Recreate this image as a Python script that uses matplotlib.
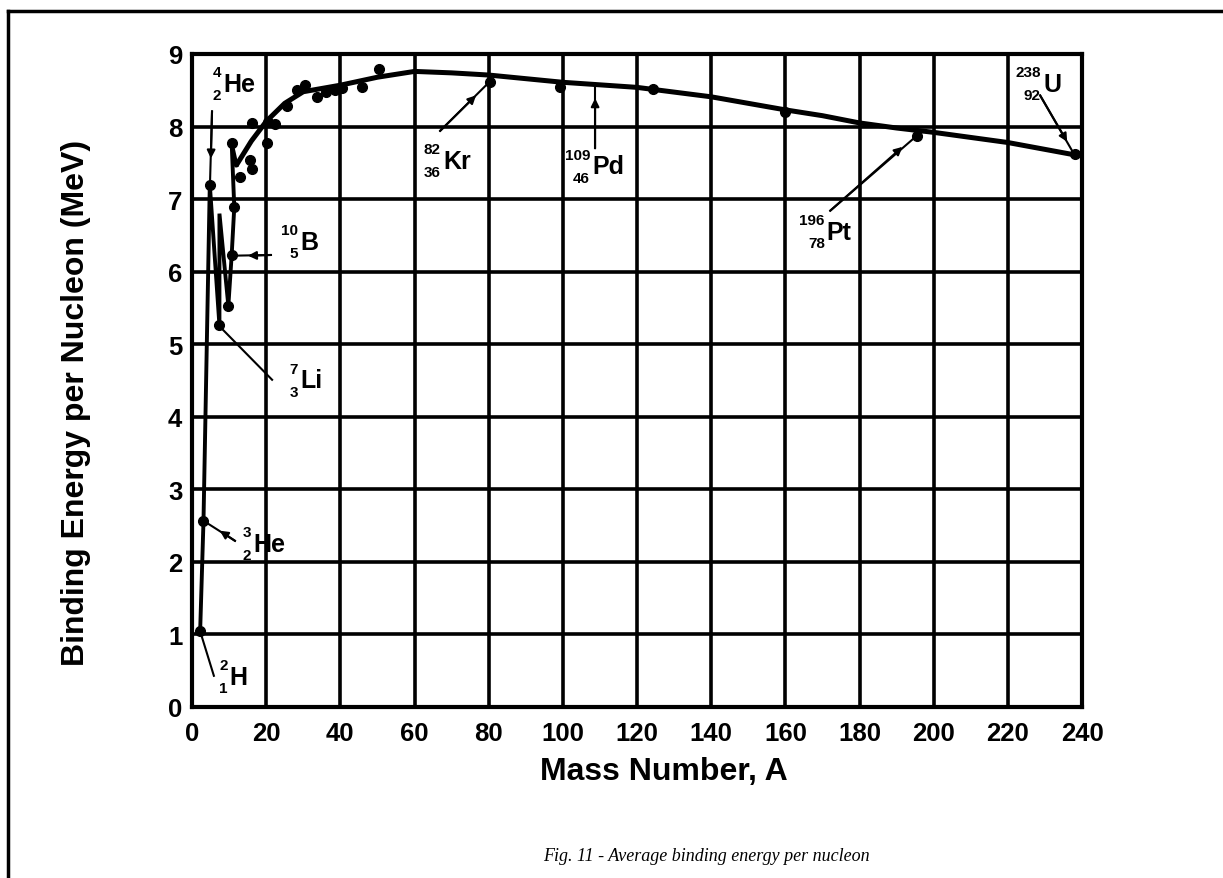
import matplotlib
matplotlib.use("Agg")
import matplotlib.pyplot as plt
from matplotlib.lines import Line2D

plt.rcParams['font.family'] = ['Liberation Sans', 'DejaVu Sans']
plt.rcParams['font.weight'] = 'bold'

# light-nuclide path (mass number, MeV per nucleon), drawn as a jagged line
low_a = [2.2, 3.1, 4.8, 7.4, 7.4, 9.8, 10.7, 11.4, 10.7, 12.0]
low_e = [1.05, 2.57, 7.2, 5.26, 6.8, 5.53, 6.23, 6.89, 7.77, 7.47]

# smooth trend curve
curve_a = [12, 16, 20, 25, 30, 40, 50, 60, 70, 80, 100, 120, 140,
           160, 170, 180, 190, 200, 220, 238]
curve_e = [7.47, 7.8, 8.07, 8.32, 8.48, 8.57, 8.68, 8.76, 8.74, 8.71, 8.61,
           8.54, 8.41, 8.23, 8.15, 8.05, 7.98, 7.92, 7.78, 7.61]

# measured points
dot_a = [2.2, 3.1, 4.8, 7.4, 9.8, 10.7, 11.4, 10.7, 12.9, 15.6, 16.1, 16.1,
         20.1, 20.6, 22.4, 25.5, 28.2, 30.5, 33.6, 36.0, 38.5, 40.5, 45.8,
         50.5, 80.3, 99.2, 124.4, 159.8, 195.5, 238.1]
dot_e = [1.05, 2.57, 7.2, 5.26, 5.53, 6.23, 6.89, 7.77, 7.31, 7.54, 7.42, 8.05,
         7.77, 8.06, 8.04, 8.29, 8.5, 8.57, 8.41, 8.47, 8.5, 8.53, 8.55,
         8.8, 8.62, 8.54, 8.52, 8.2, 7.87, 7.62]

# nuclide labels: symbol, mass number, atomic number
nuclides = [("He", "4", "2"), ("B", "10", "5"), ("Li", "7", "3"), ("He", "3", "2"),
            ("H", "2", "1"), ("Kr", "82", "36"), ("Pd", "109", "46"),
            ("Pt", "196", "78"), ("U", "238", "92")]
label_pos = [(8.4, 8.59), (29.1, 6.41), (29.1, 4.5), (16.5, 2.25), (10.2, 0.41),
             (67.7, 7.52), (107.9, 7.45), (171.2, 6.55), (229.5, 8.59)]
# pointer lines: start, arrow tip (None = plain line), end
pointers = [((5.4, 8.21), (5.1, 7.56), (4.85, 7.21)),
            ((21.3, 6.23), (15.1, 6.22), (10.8, 6.22)),
            ((21.6, 4.51), None, (7.55, 5.24)),
            ((11.6, 2.29), (7.5, 2.43), (3.0, 2.57)),
            ((5.9, 0.43), None, (2.16, 1.05)),
            ((66.9, 7.94), (76.6, 8.43), (80.1, 8.61)),
            ((108.7, 7.70), (108.7, 8.39), (108.7, 8.55)),
            ((172.1, 6.84), (191.6, 7.72), (195.6, 7.88)),
            ((228.7, 8.43), (236.0, 7.79), (238.2, 7.59))]

W, H = 1223, 879
fig = plt.figure(figsize=(W / 100, H / 100), dpi=100)
ax = fig.add_axes([192 / W, 1 - 708 / H, 890 / W, 653 / H])

ax.set_xlim(0, 240)
ax.set_ylim(0, 9)
ax.set_xticks(range(0, 241, 20))
ax.set_yticks(range(0, 10))
ax.grid(True, color='black', lw=2.6)
ax.set_axisbelow(True)
for s in ax.spines.values():
    s.set_linewidth(3)
ax.tick_params(length=0, labelsize=18.5)
ax.tick_params(axis='x', pad=10)
ax.tick_params(axis='y', pad=7)

ax.plot(low_a, low_e, color='black', lw=2.8, solid_joinstyle='miter')
ax.plot(curve_a, curve_e, color='black', lw=3.6, solid_capstyle='round')
ax.plot(dot_a, dot_e, 'o', color='black', ms=7)

for (st, tip, end) in pointers:
    ax.plot([st[0], end[0]], [st[1], end[1]], color='black', lw=1.5)
    if tip is not None:
        ax.annotate('', xy=tip, xytext=st,
                    arrowprops=dict(arrowstyle='-|>', color='black', lw=1.5,
                                    mutation_scale=12, shrinkA=0, shrinkB=0))

for (sym, mass, z), (x, y) in zip(nuclides, label_pos):
    ax.text(x, y, sym, fontsize=18, ha='left', va='center')
    ax.annotate(mass, (x, y), xytext=(-1.5, 8.6), textcoords='offset points',
                fontsize=11, ha='right', va='center')
    ax.annotate(z, (x, y), xytext=(-1.5, -8.0), textcoords='offset points',
                fontsize=11, ha='right', va='center')

fig.text(76 / W, 1 - 403 / H, "Binding Energy per Nucleon (MeV)", rotation=90,
         fontsize=23, ha='center', va='center')
fig.text(664 / W, 1 - 772 / H, "Mass Number, A", fontsize=23,
         ha='center', va='center')
fig.text(706 / W, 1 - 857 / H, "Fig. 11 - Average binding energy per nucleon",
         family='Liberation Serif', fontstyle='italic', fontweight='normal',
         fontsize=13, ha='center', va='center')

# page frame (top and left edges visible)
fig.add_artist(Line2D([8 / W, 1], [1 - 12 / H] * 2, transform=fig.transFigure,
                      color='black', lw=2.5))
fig.add_artist(Line2D([8 / W] * 2, [1 - 12 / H, 0], transform=fig.transFigure,
                      color='black', lw=2.5))

fig.savefig("out.png", dpi=100)
